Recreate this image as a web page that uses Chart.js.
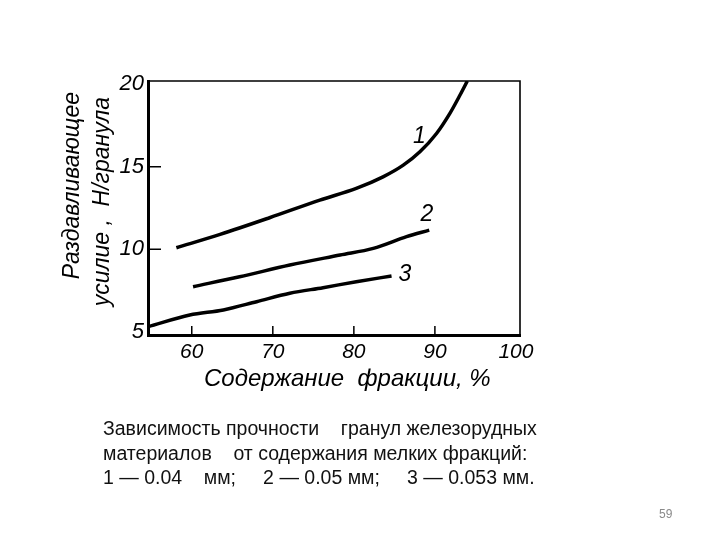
<!DOCTYPE html>
<html>
<head>
<meta charset="utf-8">
<script src="https://cdn.jsdelivr.net/npm/chart.js@4/dist/chart.umd.min.js"></script>
<style>
  html, body { margin: 0; padding: 0; background: #fff; }
  #wrap { position: relative; width: 720px; height: 540px; }
  #c { position: absolute; left: 0; top: 0; }
  .cap { position: absolute; left: 103px; font-family: "Liberation Sans", Arial, sans-serif; font-size: 19.5px; color: #111; white-space: pre; line-height: 24px; }
  #pg { position: absolute; left: 659px; top: 507px; font-family: "Liberation Sans", Arial, sans-serif; font-size: 12px; color: #8a8a8a; }
</style>
</head>
<body>
<div id="wrap">
  <canvas id="c" width="720" height="540"></canvas>
  <div class="cap" style="top:416px">Зависимость прочности    гранул железорудных</div>
  <div class="cap" style="top:441px">материалов    от содержания мелких фракций:</div>
  <div class="cap" style="top:465px">1 — 0.04    мм;     2 — 0.05 мм;     3 — 0.053 мм.</div>
  <div id="pg">59</div>
</div>
<script>
// ---- data ----
const curve1X = [58.1, 63.5, 69.6, 75.8, 80.3, 83.6, 86.1, 88.15, 90.2, 91.85, 93.1, 94.0];
const curve1Y = [10.09, 10.9, 11.91, 12.98, 13.69, 14.39, 15.1, 15.91, 17.02, 18.24, 19.35, 20.2];
const curve2X = [60.16, 65.9, 72.1, 78.3, 82.4, 86.5, 89.3];
const curve2Y = [7.73, 8.33, 9.04, 9.65, 10.05, 10.76, 11.16];
const curve3X = [54.6, 59.75, 63.9, 68.0, 72.1, 76.2, 80.3, 84.65];
const curve3Y = [5.3, 6.01, 6.32, 6.82, 7.33, 7.67, 8.03, 8.38];
const curveNames = ["1", "2", "3"];
const curveLabelX = [88.1, 89.0, 86.3];
const curveLabelY = [16.8, 12.07, 8.44];
const xTickValues = [60, 70, 80, 90, 100];
const yTickValues = [5, 10, 15, 20];
const xTitle = "    Содержание  фракции, %";
const yTitle = ["       Раздавливающее", "  усилие ,  Н/гранула"];

function pts(xs, ys) { return xs.map((x, i) => ({ x: x, y: ys[i] })); }

const lineStyle = {
  borderColor: "#000", borderWidth: 3.5, pointRadius: 0, fill: false,
  cubicInterpolationMode: "monotone"
};

const framePlugin = {
  id: "frame",
  afterDatasetsDraw(chart) {
    const ctx = chart.ctx, a = chart.chartArea;
    const xs = chart.scales.x, ys = chart.scales.y;
    ctx.save();
    ctx.strokeStyle = "#000";
    ctx.lineWidth = 1.6;
    ctx.beginPath();
    ctx.moveTo(a.left, a.top); ctx.lineTo(a.right, a.top);
    ctx.lineTo(a.right, a.bottom);
    ctx.stroke();
    // inward ticks
    ctx.lineWidth = 1.5;
    ctx.beginPath();
    [60, 70, 80, 90].forEach(v => {
      const px = xs.getPixelForValue(v);
      ctx.moveTo(px, a.bottom); ctx.lineTo(px, a.bottom - 9);
    });
    [10, 15].forEach(v => {
      const py = ys.getPixelForValue(v);
      ctx.moveTo(a.left, py); ctx.lineTo(a.left + 13, py);
    });
    ctx.stroke();
    // curve numbers
    ctx.fillStyle = "#000";
    ctx.font = "italic 23px 'Liberation Sans', 'DejaVu Sans', sans-serif";
    ctx.textAlign = "center";
    ctx.textBaseline = "middle";
    curveNames.forEach((n, i) => {
      ctx.fillText(n, xs.getPixelForValue(curveLabelX[i]), ys.getPixelForValue(curveLabelY[i]));
    });
    ctx.restore();
  }
};

new Chart(document.getElementById("c"), {
  type: "line",
  data: {
    datasets: [
      Object.assign({ label: "1", data: pts(curve1X, curve1Y) }, lineStyle),
      Object.assign({ label: "2", data: pts(curve2X, curve2Y) }, lineStyle),
      Object.assign({ label: "3", data: pts(curve3X, curve3Y) }, lineStyle)
    ]
  },
  options: {
    responsive: false,
    animation: false,
    events: [],
    layout: { padding: { left: 0, top: 81, right: 200, bottom: 0 } },
    plugins: { legend: { display: false }, tooltip: { enabled: false } },
    scales: {
      x: {
        type: "linear", min: 54.6, max: 100.5,
        afterFit: s => { s.height = 205; },
        afterBuildTicks: s => { s.ticks = xTickValues.map(v => ({ value: v })); },
        grid: { display: false, drawTicks: false },
        border: { display: true, color: "#000", width: 3 },
        ticks: { color: "#000", padding: 5, maxRotation: 0,
                 font: { family: "'Liberation Sans', 'DejaVu Sans', sans-serif", style: "italic", size: 21 } },
        title: { display: true, text: xTitle, color: "#000",
                 font: { family: "'Liberation Sans', 'DejaVu Sans', sans-serif", style: "italic", size: 24 },
                 padding: { top: 0, bottom: 146 } }
      },
      y: {
        type: "linear", min: 4.8, max: 20.2,
        afterFit: s => { s.width = 148; },
        afterBuildTicks: s => { s.ticks = yTickValues.map(v => ({ value: v })); },
        grid: { display: false, drawTicks: false },
        border: { display: true, color: "#000", width: 3 },
        ticks: { color: "#000", padding: 4,
                 font: { family: "'Liberation Sans', 'DejaVu Sans', sans-serif", style: "italic", size: 22 } },
        title: { display: true, text: yTitle, color: "#000",
                 font: { family: "'Liberation Sans', 'DejaVu Sans', sans-serif", style: "italic", size: 23, lineHeight: 1.3 },
                 padding: { top: 58, bottom: 0 } }
      }
    }
  },
  plugins: [framePlugin]
});
</script>
</body>
</html>
